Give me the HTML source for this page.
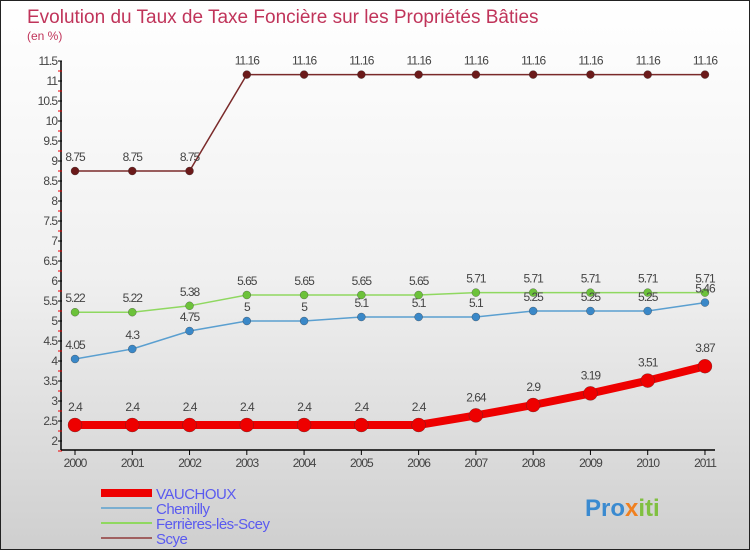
<!DOCTYPE html>
<html><head><meta charset="utf-8"><style>
body{margin:0}
#c{width:748px;height:548px;border:1px solid #222;background:linear-gradient(#fff 0%,#f0f0f0 50%,#cfcfcf 100%);position:relative;overflow:hidden;font-family:"Liberation Sans",sans-serif}
</style></head><body>
<div id="c">
<svg id="s" width="748" height="548"></svg>
</div>
<script>
const years=["2000","2001","2002","2003","2004","2005","2006","2007","2008","2009","2010","2011"];
const vauchoux=[2.4,2.4,2.4,2.4,2.4,2.4,2.4,2.64,2.9,3.19,3.51,3.87];
const chemilly=[4.05,4.3,4.75,5,5,5.1,5.1,5.1,5.25,5.25,5.25,5.46];
const ferrieres=[5.22,5.22,5.38,5.65,5.65,5.65,5.65,5.71,5.71,5.71,5.71,5.71];
const scye=[8.75,8.75,8.75,11.16,11.16,11.16,11.16,11.16,11.16,11.16,11.16,11.16];
const yTicks=[2,2.5,3,3.5,4,4.5,5,5.5,6,6.5,7,7.5,8,8.5,9,9.5,10,10.5,11,11.5];
const NS="http://www.w3.org/2000/svg";const s=document.getElementById('s');
function X(i){return 74+i*57.27}
function Y(v){return 440-(v-2)*40}
function el(t,a,txt,p){const e=document.createElementNS(NS,t);for(const k in a)e.setAttribute(k,a[k]);if(txt!==undefined)e.textContent=txt;(p||s).appendChild(e);return e}
let e;
e=el('text',{x:26,y:22,'font-size':19,fill:'#c0345a'},'Evolution du Taux de Taxe Foncière sur les Propriétés Bâties');

e=el('text',{x:26,y:39,'font-size':12,fill:'#c0345a'},'(en %)');

el('line',{x1:60,y1:Y(11.5),x2:60,y2:449,stroke:'#000','stroke-width':1.5});
el('line',{x1:60,y1:449,x2:714,y2:449,stroke:'#000','stroke-width':1.5});
yTicks.forEach(v=>{el('line',{x1:57,x2:61,y1:Y(v),y2:Y(v),stroke:'#000'});
el('line',{x1:57,x2:61,y1:Y(v)+10,y2:Y(v)+10,stroke:'#e00'});
e=el('text',{x:56,y:Y(v)+4,'font-size':12,fill:'#444','text-anchor':'end','letter-spacing':'-1'},String(v));
});
years.forEach((y,i)=>{el('line',{x1:X(i),x2:X(i),y1:449,y2:454,stroke:'#000'});
e=el('text',{x:X(i),y:466,'font-size':12,fill:'#444','text-anchor':'middle','letter-spacing':'-1'},y);
});
function series(d,col,dot,w,r,name,lab){
 e=el('polyline',{points:d.map((v,i)=>X(i)+','+Y(v)).join(' '),fill:'none',stroke:col,'stroke-width':w});
 
 d.forEach((v,i)=>{e=el('circle',{cx:X(i),cy:Y(v),r:r,fill:dot,stroke:'#333','stroke-width':0.3});
 
 e=el('text',{x:X(i),y:Y(v)-(lab||10),'font-size':12,fill:'#444','text-anchor':'middle','letter-spacing':'-1'},String(v));
 });
}
series(scye,'#7a2a2a','#6b1a1a',1.5,4,'scye');
series(ferrieres,'#8fd860','#6cc23a',1.5,4,'ferrieres');
series(chemilly,'#5a9fd0','#3a88c8',1.5,4,'chemilly');
series(vauchoux,'#ee0000','#ee0000',8,7,'vauchoux',14);
const leg=[['VAUCHOUX','#ee0000',8],['Chemilly','#7aaed0',2],['Ferrières-lès-Scey','#90d860',2],['Scye','#a06060',2]];
leg.forEach((l,i)=>{const y=492+i*15;
 e=el('line',{x1:100,x2:151,y1:y,y2:y,stroke:l[1],'stroke-width':l[2]});
 
 e=el('text',{x:155,y:y+6,'font-size':15,fill:'#5a5af0','letter-spacing':'-0.5'},l[0]);
 });
e=el('text',{x:584,y:515,'font-size':24,'font-weight':'bold'});

el('tspan',{fill:'#3a8ad0'},'Pro',e);
el('tspan',{fill:'#f08020'},'x',e);
el('tspan',{fill:'#80c040'},'iti',e);
</script>
</body></html>
